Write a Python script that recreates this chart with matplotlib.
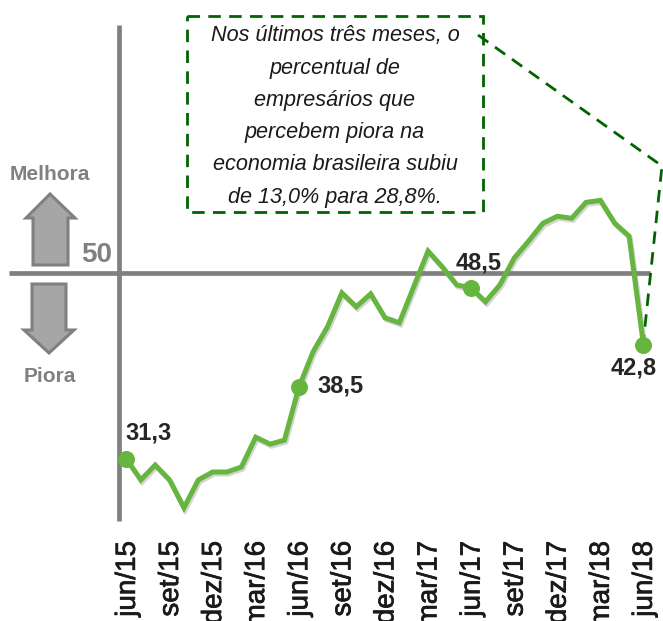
import numpy as np
import matplotlib
matplotlib.use("Agg")
import matplotlib.pyplot as plt
import matplotlib.patheffects as pe
from matplotlib.patches import Polygon, Rectangle

plt.rcParams['font.family'] = ['Liberation Sans', 'DejaVu Sans']

# monthly index, jun/15 to jun/18
values = [31.3, 29.2, 30.7, 29.2, 26.4, 29.2, 30.0, 30.0, 30.5, 33.5, 32.8, 33.2,
          38.5, 42.1, 44.6, 48.0, 46.6, 47.9, 45.5, 45.0, 48.6, 52.2, 50.6, 48.8,
          48.5, 47.1, 48.8, 51.5, 53.2, 55.0, 55.7, 55.5, 57.1, 57.3, 55.0, 53.7, 42.8]
tick_labels = ['jun/15', 'set/15', 'dez/15', 'mar/16', 'jun/16', 'set/16', 'dez/16',
               'mar/17', 'jun/17', 'set/17', 'dez/17', 'mar/18', 'jun/18']
highlight_idx = [0, 12, 24, 36]
highlight_labels = ['31,3', '38,5', '48,5', '42,8']
label_offsets = [(-1, 19), (13.5, 1), (-11.5, 18), (-24, -16.5)]
box_lines = ['Nos últimos três meses, o', 'percentual de', 'empresários que',
             'percebem piora na', 'economia brasileira subiu', 'de 13,0% para 28,8%.']

GREEN = '#66b53f'
GREY = '#808080'
DASH = '#006400'
W, H = 663, 621

fig = plt.figure(figsize=(W / 100, H / 100), dpi=100)

# main axes filling the figure: x in months, y in index points
x0, dx = 126.5, 14.36
y50, dy = 273, 9.95
ax = fig.add_axes([0, 0, 1, 1])
ax.set_xlim(-x0 / dx, (W - x0) / dx)
ax.set_ylim(50 - (H - y50) / dy, 50 + y50 / dy)
ax.axis('off')

# overlay in pixel coords for the decorations
deco = fig.add_axes([0, 0, 1, 1], zorder=-1)
deco.set_xlim(0, W)
deco.set_ylim(H, 0)
deco.axis('off')
ax.patch.set_visible(False)

deco.plot([9, 650], [273, 273], color=GREY, lw=3.4, solid_capstyle='butt')
deco.plot([119, 119], [25, 521], color=GREY, lw=3.4, solid_capstyle='butt')

# line with a soft shadow
x = np.arange(len(values))
ax.plot(x, values, color=GREEN, lw=3.6, solid_joinstyle='miter',
        path_effects=[pe.SimpleLineShadow(offset=(1, -1.5), shadow_color='#888888', alpha=0.35),
                      pe.Normal()])
ax.scatter(x[highlight_idx], np.array(values)[highlight_idx], s=150, color=GREEN,
           linewidths=0, zorder=5)

for i, lab, off in zip(highlight_idx, highlight_labels, label_offsets):
    ax.annotate(lab, (x[i], values[i]), xytext=off, textcoords='offset points',
                ha='left', va='center', fontsize=17, fontweight='bold', color='#262626',
                zorder=6)

# x labels, cut by the bottom of the image like the original
for i, lab in zip(x[::3], tick_labels):
    ax.annotate(lab, (i, 0), xycoords=('data', 'axes fraction'),
                xytext=(1, (H - 541) * 0.72), textcoords='offset points',
                rotation=90, ha='center', va='top', fontsize=20, color='#1a1a1a',
                path_effects=[pe.withStroke(linewidth=0.5, foreground='#1a1a1a')],
                annotation_clip=False)

# dashed note box and its pointer
deco.add_patch(Rectangle((187, 16), 296, 196, fill=False, edgecolor=DASH, lw=2,
                         linestyle=(0, (4.5, 3))))
deco.plot([478, 662, 643], [35, 166, 345], color=DASH, lw=2, linestyle=(0, (4.5, 3)))
for k, line in enumerate(box_lines):
    deco.text(335, 36 + k * 32.2, line, ha='center', va='center', fontsize=15.6,
              style='italic', color='#1a1a1a')

# Melhora / Piora arrows
up = [(50, 194), (75, 218), (68, 218), (68, 265), (33, 265), (33, 218), (26, 218)]
down = [(49, 353), (74, 330), (66, 330), (66, 284), (32, 284), (32, 330), (24, 330)]
for pts in (up, down):
    deco.add_patch(Polygon(pts, closed=True, facecolor='#a6a6a6', edgecolor=GREY, lw=2.2))
deco.text(50, 175, 'Melhora', ha='center', va='center', fontsize=15, fontweight='bold',
          color=GREY)
deco.text(50, 377, 'Piora', ha='center', va='center', fontsize=15, fontweight='bold',
          color=GREY)
deco.text(97, 255, '50', ha='center', va='center', fontsize=20, fontweight='bold', color=GREY)

fig.savefig('out.png', dpi=100)
